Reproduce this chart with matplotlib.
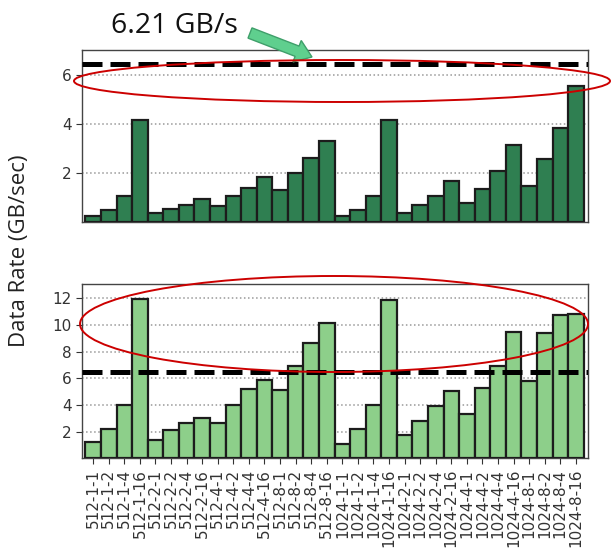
import matplotlib
matplotlib.use('Agg')
import matplotlib.pyplot as plt
from matplotlib.patches import Ellipse, FancyArrow
from matplotlib.transforms import IdentityTransform

# datos
labels = ['512-1-1', '512-1-2', '512-1-4', '512-1-16',
          '512-2-1', '512-2-2', '512-2-4', '512-2-16',
          '512-4-1', '512-4-2', '512-4-4', '512-4-16',
          '512-8-1', '512-8-2', '512-8-4', '512-8-16',
          '1024-1-1', '1024-1-2', '1024-1-4', '1024-1-16',
          '1024-2-1', '1024-2-2', '1024-2-4', '1024-2-16',
          '1024-4-1', '1024-4-2', '1024-4-4', '1024-4-16',
          '1024-8-1', '1024-8-2', '1024-8-4', '1024-8-16']

rate_top = [0.23, 0.50, 1.04, 4.15, 0.36, 0.54, 0.70, 0.95,
            0.64, 1.04, 1.40, 1.85, 1.31, 2.01, 2.60, 3.30,
            0.23, 0.50, 1.04, 4.15, 0.36, 0.68, 1.04, 1.68,
            0.77, 1.34, 2.08, 3.14, 1.45, 2.55, 3.81, 5.53]

rate_bottom = [1.20, 2.20, 4.00, 11.95, 1.40, 2.10, 2.65, 3.05,
               2.65, 4.00, 5.18, 5.85, 5.10, 6.95, 8.68, 10.13,
               1.08, 2.20, 4.00, 11.88, 1.75, 2.83, 3.93, 5.08,
               3.33, 5.28, 6.93, 9.45, 5.83, 9.43, 10.75, 10.85]

limit = 6.45
limit_text = '6.21 GB/s'

W, H = 611, 559
fig = plt.figure(figsize=(W / 100, H / 100), dpi=100)

ax1 = fig.add_axes([82 / W, 1 - 222 / H, 506 / W, 172 / H])
ax2 = fig.add_axes([82 / W, 1 - 458.4 / H, 506 / W, 174.1 / H])

x = list(range(len(labels)))

for ax, vals, color, ymax, ticks in [
        (ax1, rate_top, '#2f7f51', 7.0, [2, 4, 6]),
        (ax2, rate_bottom, '#8dcf8a', 13.05, [2, 4, 6, 8, 10, 12])]:
    ax.bar(x, vals, width=1.0, color=color, edgecolor='#1c1c1c',
           linewidth=1.6, zorder=3)
    ax.axhline(limit, color='black', linestyle='--', linewidth=3.6,
               dashes=(4.0, 1.6), zorder=4)
    ax.set_xlim(-0.72, 31.78)
    ax.set_ylim(0, ymax)
    ax.set_yticks(ticks)
    ax.grid(axis='y', linestyle=':', color='#999999', linewidth=1.1, zorder=0)
    ax.tick_params(axis='y', labelsize=11, colors='#333333', length=4)
    for s in ax.spines.values():
        s.set_color('#444444')
        s.set_linewidth(1.0)

ax1.set_xticks([])
ax2.set_xticks(x)
ax2.set_xticklabels(labels, rotation=90, fontsize=11)
ax2.tick_params(axis='x', colors='#333333', length=4)

fig.text(20 / W, 1 - 251 / H, 'Data Rate (GB/sec)', rotation=90,
         ha='center', va='center', fontsize=16, family='Open Sans',
         color='#222222')

fig.text(111 / W, 1 - 33 / H, limit_text, ha='left', va='baseline',
         fontsize=20.5, family='Open Sans', color='#111111')

# flecha y elipses en pixeles de la figura
fig.add_artist(FancyArrow(250, H - 33, 62, -24, width=11, head_width=23,
                          head_length=16, length_includes_head=True,
                          facecolor='#5fcf8e', edgecolor='#3f9f6a',
                          linewidth=1, transform=IdentityTransform()))

fig.add_artist(Ellipse((342, H - 81), 536, 42, fill=False,
                       edgecolor='#cc0000', linewidth=1.4,
                       transform=IdentityTransform(), zorder=10))
fig.add_artist(Ellipse((334, H - 324), 508, 96, fill=False,
                       edgecolor='#cc0000', linewidth=1.4,
                       transform=IdentityTransform(), zorder=10))

fig.savefig('out.png', dpi=100)
